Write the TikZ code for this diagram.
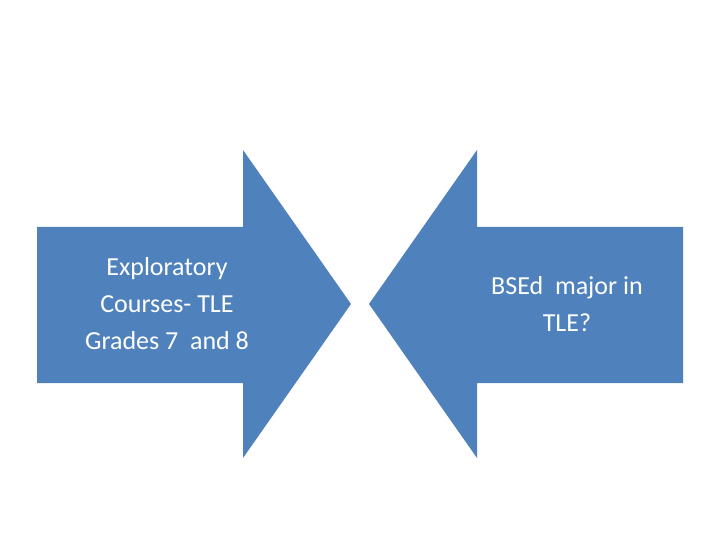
\documentclass[tikz,border=0pt]{standalone}
\usepackage{fontspec}
\setmainfont{Carlito}
\definecolor{arrowblue}{HTML}{4F81BD}
\begin{document}
\begin{tikzpicture}[x=1pt,y=-1pt,
  arrowshape/.style={fill=arrowblue,draw=none},
  lbl/.style={text=white,align=center,font=\fontsize{26}{37}\selectfont}]
\useasboundingbox (0,0) rectangle (720,540);
\fill[arrowshape] (37,227) -- (243,227) -- (243,150) -- (351,304) -- (243,458) -- (243,383) -- (37,383) -- cycle;
\fill[arrowshape] (683,227) -- (477,227) -- (477,150) -- (369,304) -- (477,458) -- (477,383) -- (683,383) -- cycle;
\node[lbl] (l) at (167,304) {Exploratory\\Courses- TLE\\Grades 7 ~and 8};
\node[lbl] (r) at (567,304) {BSEd ~major in\\TLE?};
\end{tikzpicture}
\end{document}
